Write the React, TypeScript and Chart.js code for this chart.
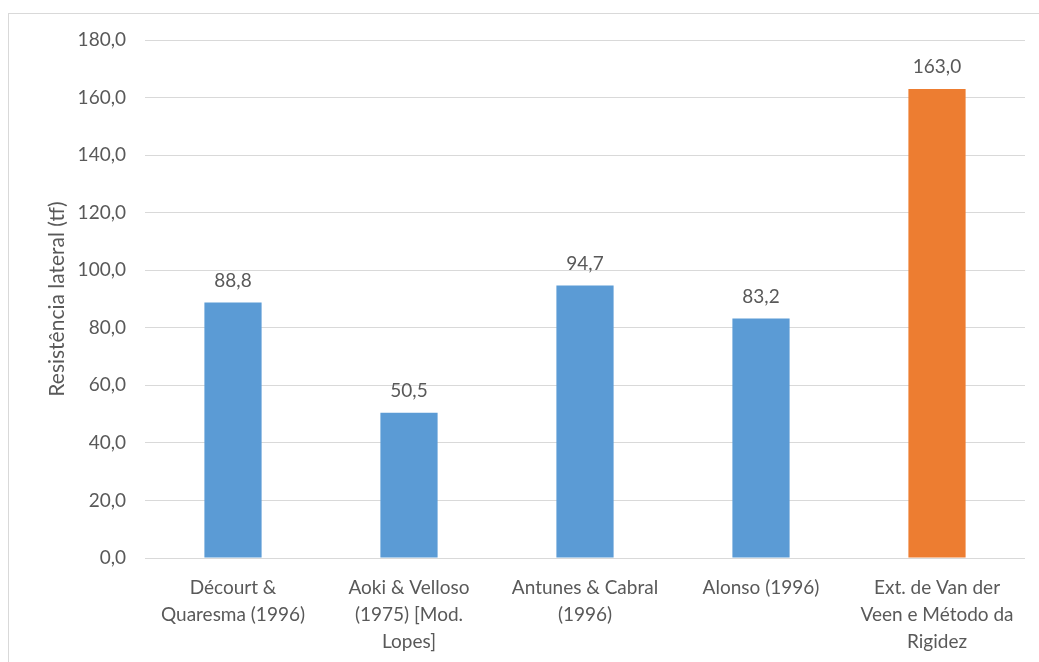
import React, { useEffect, useRef } from "react";
import { Chart, registerables } from "chart.js";

Chart.register(...registerables);

const categories: string[][] = [
  ["Décourt &", "Quaresma (1996)"],
  ["Aoki & Velloso", "(1975) [Mod.", "Lopes]"],
  ["Antunes & Cabral", "(1996)"],
  ["Alonso (1996)"],
  ["Ext. de Van der", "Veen e Método da", "Rigidez"],
];
const values: number[] = [88.8, 50.5, 94.7, 83.2, 163.0];
const barColors: string[] = ["#5B9BD5", "#5B9BD5", "#5B9BD5", "#5B9BD5", "#ED7D31"];
const yMin = 0;
const yMax = 180;
const yStep = 20;
const yTitle = "Resistência lateral (tf)";

const FONT = "Lato";
const TEXT = "#595959";

const fmt = (v: number) => v.toFixed(1).replace(".", ",");

const labelPlugin = {
  id: "valueLabels",
  afterDatasetsDraw(chart: any) {
    const ctx = chart.ctx;
    const meta = chart.getDatasetMeta(0);
    ctx.save();
    ctx.font = `19px ${FONT}`;
    ctx.fillStyle = TEXT;
    ctx.textAlign = "center";
    ctx.textBaseline = "middle";
    meta.data.forEach((el: any, i: number) => {
      ctx.fillText(fmt(values[i]), el.x, el.y - 22);
    });
    ctx.restore();
  },
};

export default function App() {
  const ref = useRef<HTMLCanvasElement | null>(null);
  useEffect(() => {
    if (!ref.current) return;
    const chart = new Chart(ref.current, {
      type: "bar",
      data: {
        labels: categories,
        datasets: [
          {
            data: values,
            backgroundColor: barColors,
            barPercentage: 0.325,
            categoryPercentage: 1,
          },
        ],
      },
      options: {
        responsive: false,
        animation: false,
        layout: { padding: { left: 0, right: 14, top: 40, bottom: 0 } },
        plugins: {
          legend: { display: false },
          tooltip: { enabled: false },
        },
        scales: {
          x: {
            grid: { display: false },
            border: { display: false },
            ticks: {
              color: TEXT,
              font: { family: FONT, size: 19, lineHeight: 27 / 19 },
              padding: 8,
              maxRotation: 0,
              autoSkip: false,
            },
            afterFit(scale: any) {
              scale.height = 104;
            },
          },
          y: {
            min: yMin,
            max: yMax,
            grid: { color: "#d9d9d9", drawTicks: false, lineWidth: 1 },
            border: { display: false },
            ticks: {
              stepSize: yStep,
              color: TEXT,
              font: { family: FONT, size: 19 },
              padding: 19,
              callback: (v: any) => fmt(Number(v)),
            },
            title: {
              display: true,
              text: yTitle,
              color: TEXT,
              font: { family: FONT, size: 21 },
              padding: { top: 45, bottom: 0 },
            },
            afterFit(scale: any) {
              scale.width = 145;
            },
          },
        },
      },
      plugins: [labelPlugin],
    });
    return () => chart.destroy();
  }, []);

  return (
    <div style={{ position: "fixed", left: 0, top: 0, width: 1039, height: 662, background: "#fff", overflow: "hidden" }}>
      <div
        style={{
          position: "absolute",
          left: 8,
          top: 13,
          width: 1100,
          height: 700,
          border: "1px solid #d9d9d9",
          boxSizing: "border-box",
        }}
      />
      <canvas ref={ref} width={1039} height={662} style={{ position: "absolute", left: 0, top: 0 }} />
    </div>
  );
}
